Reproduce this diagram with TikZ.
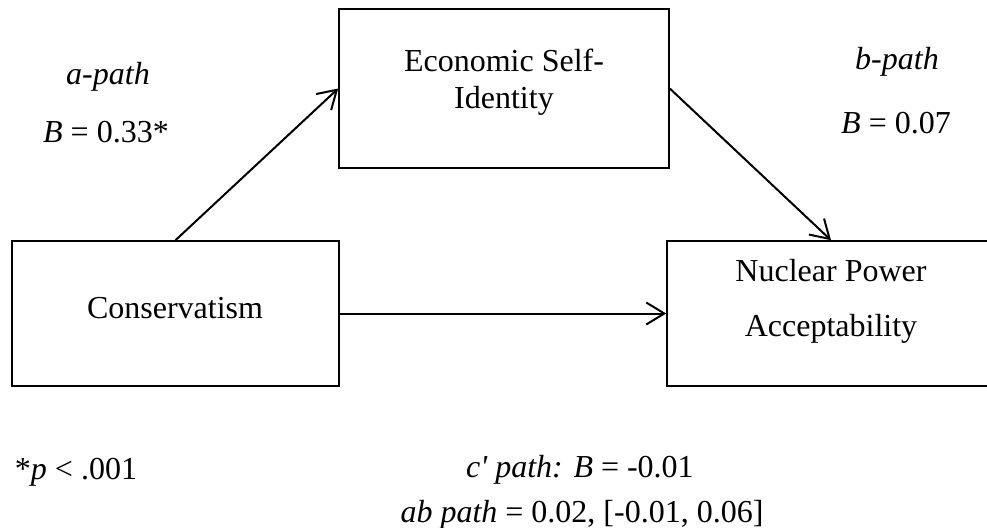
\documentclass[tikz,border=0pt]{standalone}
\usepackage{fontspec}
\setmainfont{Liberation Serif}
\usetikzlibrary{arrows.meta}

\tikzset{
  box/.style={draw, line width=0.8pt, inner sep=0pt},
  patharrow/.style={-{Straight Barb[length=9pt,width=11pt]}, line width=1pt},
  lbl/.style={anchor=base, inner sep=0pt, font=\fontsize{16}{19}\selectfont},
}

\begin{document}
\begin{tikzpicture}[x=0.5pt,y=-0.5pt]
  \useasboundingbox (0,0) rectangle (987,527);
  \clip (0,0) rectangle (987,527);

  % the three variables
  \node[box, minimum width=163.5pt, minimum height=72.5pt] (cons) at (175.5,313.5) {};
  \node[box, minimum width=165pt, minimum height=79.5pt] (econ) at (504,88.5) {};
  \node[box, minimum width=164pt, minimum height=72.5pt] (nuc) at (831,313.5) {};

  \node[lbl] (consTxt) at (175,318) {Conservatism};
  \node[lbl] (econTxtA) at (504,71) {Economic Self-};
  \node[lbl] (econTxtB) at (504,108) {Identity};
  \node[lbl] (nucTxtA) at (831,281) {Nuclear Power};
  \node[lbl] (nucTxtB) at (831,336) {Acceptability};

  % paths
  \draw[patharrow] (cons.north) -- (econ.west);
  \draw[patharrow] (econ.east) -- (nuc.north);
  \draw[patharrow] (cons.east) -- (nuc.west);

  % coefficients
  \node[lbl] (aName) at (108,84) {\textit{a-path}};
  \node[lbl] (aCoef) at (106,142) {\textit{B} = 0.33*};
  \node[lbl] (bName) at (897,69) {\textit{b-path}};
  \node[lbl] (bCoef) at (896,133) {\textit{B} = 0.07};
  \node[lbl] (sigNote) at (76,479) {*\textit{p} < .001};
  \node[lbl] (cCoef) at (580,477) {\textit{c\textquotesingle{} path: B} = -0.01};
  \node[lbl] (abCoef) at (582,522) {\textit{ab path} = 0.02, [-0.01, 0.06]};
\end{tikzpicture}
\end{document}
